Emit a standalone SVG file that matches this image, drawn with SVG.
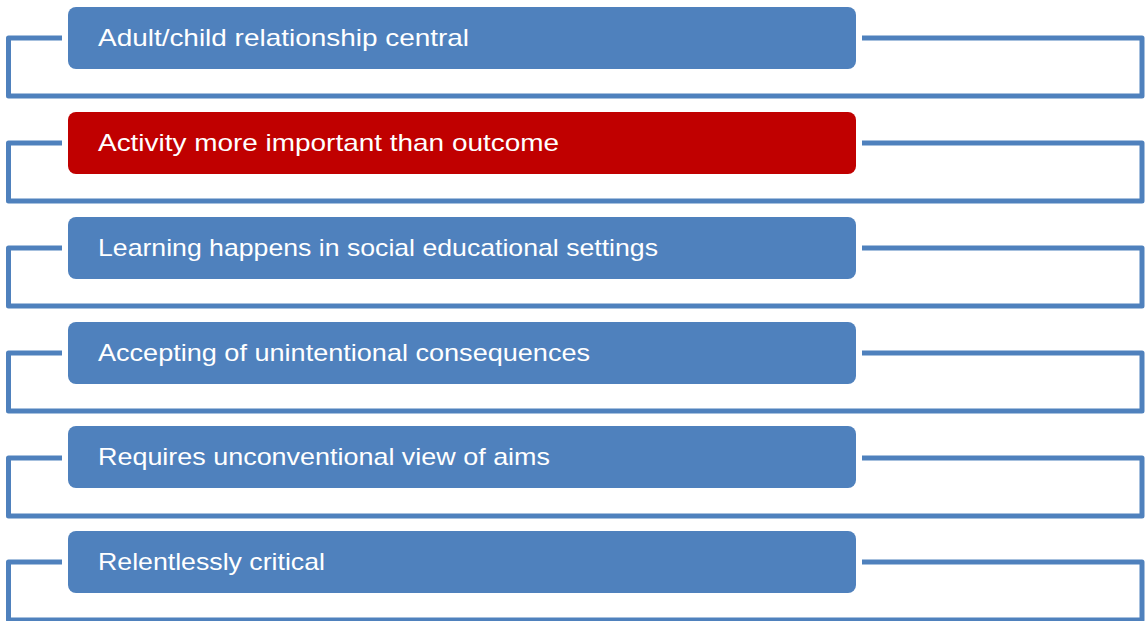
<svg xmlns="http://www.w3.org/2000/svg" width="1148" height="621" viewBox="0 0 1148 621">
<style>
.br{fill:none;stroke:#4F81BD;stroke-width:5;stroke-linejoin:round}
.bx{fill:#4F81BD}
.red{fill:#C00000}
.t{fill:#FFFFFF;font-family:"Liberation Sans",Arial,sans-serif;font-size:24px}
</style>
<rect width="1148" height="621" fill="#FFFFFF"/>
<g id="connectors">
<path class="br" d="M62,38 H8.5 V96 H1142 V38 H862"/>
<path class="br" d="M62,143 H8.5 V201 H1142 V143 H862"/>
<path class="br" d="M62,248 H8.5 V306 H1142 V248 H862"/>
<path class="br" d="M62,353 H8.5 V411 H1142 V353 H862"/>
<path class="br" d="M62,458 H8.5 V516 H1142 V458 H862"/>
<path class="br" d="M62,562 H8.5 V620 H1142 V562 H862"/>
</g>
<g id="n1"><rect class="bx" x="68" y="7" width="788" height="62" rx="8"/><text class="t" x="98" y="46" textLength="371" lengthAdjust="spacingAndGlyphs">Adult/child relationship central</text></g>
<g id="n2"><rect class="red" x="68" y="112" width="788" height="62" rx="8"/><text class="t" x="98" y="151" textLength="461" lengthAdjust="spacingAndGlyphs">Activity more important than outcome</text></g>
<g id="n3"><rect class="bx" x="68" y="217" width="788" height="62" rx="8"/><text class="t" x="98" y="256" textLength="560" lengthAdjust="spacingAndGlyphs">Learning happens in social educational settings</text></g>
<g id="n4"><rect class="bx" x="68" y="322" width="788" height="62" rx="8"/><text class="t" x="98" y="361" textLength="492" lengthAdjust="spacingAndGlyphs">Accepting of unintentional consequences</text></g>
<g id="n5"><rect class="bx" x="68" y="426" width="788" height="62" rx="8"/><text class="t" x="98" y="465" textLength="452" lengthAdjust="spacingAndGlyphs">Requires unconventional view of aims</text></g>
<g id="n6"><rect class="bx" x="68" y="531" width="788" height="62" rx="8"/><text class="t" x="98" y="570" textLength="227" lengthAdjust="spacingAndGlyphs">Relentlessly critical</text></g>
</svg>
